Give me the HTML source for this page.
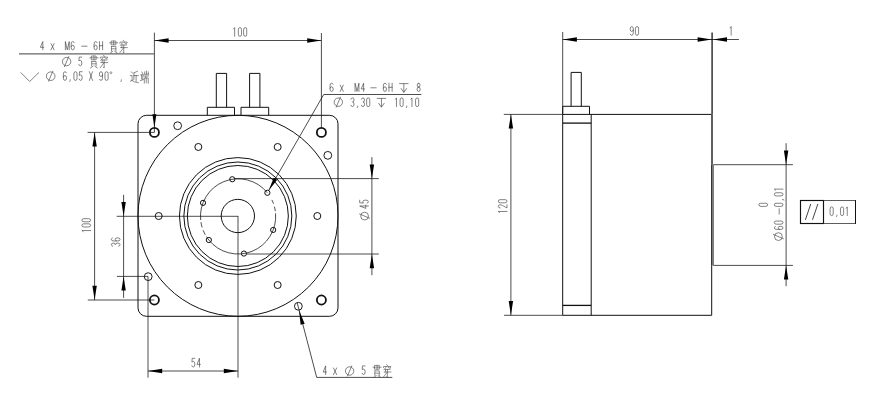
<!DOCTYPE html>
<html><head><meta charset="utf-8"><title>drawing</title>
<style>
html,body{margin:0;padding:0;background:#fff;font-family:"Liberation Sans",sans-serif;}
svg{display:block}
</style></head>
<body>
<svg width="875" height="413" viewBox="0 0 875 413">
<rect width="875" height="413" fill="#fff"/>
<rect x="138.0" y="115.3" width="200.00" height="201.00" rx="8.5" ry="8.5" fill="none" stroke="#111" stroke-width="1.0"/>
<ellipse cx="238.00" cy="215.80" rx="100.00" ry="100.50" fill="none" stroke="#111" stroke-width="1.0"/>
<circle cx="237.85" cy="216.00" r="58.40" fill="none" stroke="#111" stroke-width="1.0"/>
<circle cx="237.85" cy="216.00" r="54.00" fill="none" stroke="#111" stroke-width="1.0"/>
<circle cx="237.85" cy="216.00" r="50.50" fill="none" stroke="#111" stroke-width="1.0"/>
<circle cx="237.85" cy="216.00" r="16.65" fill="none" stroke="#111" stroke-width="1.0"/>
<path d="M267.36,192.79 A37.6,37.6 0 0 0 200.67,220.00" fill="none" stroke="#111" stroke-width="0.75" />
<path d="M200.95,222.22 A37.6,37.6 0 0 0 202.14,227.39" fill="none" stroke="#111" stroke-width="0.75" />
<path d="M203.16,230.30 A37.6,37.6 0 0 0 205.28,234.74" fill="none" stroke="#111" stroke-width="0.75" />
<path d="M206.39,236.60 A37.6,37.6 0 0 0 208.84,240.01" fill="none" stroke="#111" stroke-width="0.75" />
<path d="M208.84,240.01 A37.6,37.6 0 0 0 275.57,213.32" fill="none" stroke="#111" stroke-width="0.75" />
<path d="M275.33,211.13 A37.6,37.6 0 0 0 274.44,206.73" fill="none" stroke="#111" stroke-width="0.75" />
<path d="M273.50,203.73 A37.6,37.6 0 0 0 271.92,199.98" fill="none" stroke="#111" stroke-width="0.75" />
<circle cx="267.36" cy="192.79" r="2.60" fill="none" stroke="#111" stroke-width="1.0"/>
<circle cx="232.28" cy="179.25" r="2.60" fill="none" stroke="#111" stroke-width="1.0"/>
<circle cx="203.02" cy="202.86" r="2.60" fill="none" stroke="#111" stroke-width="1.0"/>
<circle cx="208.84" cy="240.01" r="2.60" fill="none" stroke="#111" stroke-width="1.0"/>
<circle cx="243.92" cy="253.55" r="2.60" fill="none" stroke="#111" stroke-width="1.0"/>
<circle cx="273.18" cy="229.94" r="2.60" fill="none" stroke="#111" stroke-width="1.0"/>
<circle cx="317.30" cy="216.00" r="3.50" fill="none" stroke="#111" stroke-width="1.0"/>
<circle cx="277.65" cy="146.98" r="3.50" fill="none" stroke="#111" stroke-width="1.0"/>
<circle cx="198.35" cy="146.98" r="3.50" fill="none" stroke="#111" stroke-width="1.0"/>
<circle cx="158.70" cy="216.00" r="3.50" fill="none" stroke="#111" stroke-width="1.0"/>
<circle cx="198.35" cy="285.02" r="3.50" fill="none" stroke="#111" stroke-width="1.0"/>
<circle cx="277.65" cy="285.02" r="3.50" fill="none" stroke="#111" stroke-width="1.0"/>
<circle cx="327.81" cy="155.35" r="3.90" fill="none" stroke="#111" stroke-width="0.95"/>
<circle cx="177.65" cy="125.74" r="3.90" fill="none" stroke="#111" stroke-width="0.95"/>
<circle cx="148.19" cy="276.65" r="3.90" fill="none" stroke="#111" stroke-width="0.95"/>
<circle cx="298.35" cy="306.26" r="3.90" fill="none" stroke="#111" stroke-width="0.95"/>
<circle cx="154.40" cy="132.40" r="4.55" fill="none" stroke="#111" stroke-width="1.8"/>
<circle cx="154.40" cy="300.00" r="4.55" fill="none" stroke="#111" stroke-width="1.8"/>
<circle cx="321.40" cy="132.40" r="4.55" fill="none" stroke="#111" stroke-width="1.8"/>
<circle cx="321.40" cy="300.00" r="4.55" fill="none" stroke="#111" stroke-width="1.8"/>
<path d="M207.3,115.3 L207.3,107.3 L234.5,107.3 L234.5,115.3" fill="none" stroke="#111" stroke-width="1.0" />
<path d="M216.3,107.3 L216.3,73.4 L226.6,73.4 L226.6,107.3" fill="none" stroke="#111" stroke-width="1.0" />
<path d="M241.0,115.3 L241.0,107.3 L268.7,107.3 L268.7,115.3" fill="none" stroke="#111" stroke-width="1.0" />
<path d="M249.6,107.3 L249.6,73.4 L259.9,73.4 L259.9,107.3" fill="none" stroke="#111" stroke-width="1.0" />
<line x1="154.40" y1="32.60" x2="154.40" y2="132.40" stroke="#111" stroke-width="0.75" />
<line x1="321.40" y1="33.00" x2="321.40" y2="127.60" stroke="#111" stroke-width="0.75" />
<line x1="154.40" y1="40.50" x2="321.40" y2="40.50" stroke="#111" stroke-width="0.75" />
<polygon points="154.40,40.50 168.60,38.30 168.60,42.70" fill="#000"/>
<polygon points="321.40,40.50 307.20,42.70 307.20,38.30" fill="#000"/>
<path d="M0.7,1.5 L2,0 L2,10" transform="translate(233.08,27.60) scale(0.7875,0.8700)" fill="none" stroke="#383838" stroke-width="0.62" vector-effect="non-scaling-stroke" stroke-linejoin="round" stroke-linecap="round"/>
<path d="M0,2 Q0,0 2,0 Q4,0 4,2 L4,8 Q4,10 2,10 Q0,10 0,8 Z" transform="translate(238.33,27.60) scale(0.7875,0.8700)" fill="none" stroke="#383838" stroke-width="0.62" vector-effect="non-scaling-stroke" stroke-linejoin="round" stroke-linecap="round"/>
<path d="M0,2 Q0,0 2,0 Q4,0 4,2 L4,8 Q4,10 2,10 Q0,10 0,8 Z" transform="translate(243.58,27.60) scale(0.7875,0.8700)" fill="none" stroke="#383838" stroke-width="0.62" vector-effect="non-scaling-stroke" stroke-linejoin="round" stroke-linecap="round"/>
<polygon points="154.40,127.80 152.40,114.20 156.40,114.20" fill="#000"/>
<line x1="19.00" y1="53.80" x2="154.40" y2="53.80" stroke="#666" stroke-width="1.2" />
<line x1="87.60" y1="132.40" x2="154.40" y2="132.40" stroke="#111" stroke-width="0.75" />
<line x1="87.80" y1="300.00" x2="154.40" y2="300.00" stroke="#111" stroke-width="0.75" />
<line x1="94.60" y1="132.40" x2="94.60" y2="300.00" stroke="#111" stroke-width="0.75" />
<polygon points="94.60,132.40 96.80,146.60 92.40,146.60" fill="#000"/>
<polygon points="94.60,300.00 92.40,285.80 96.80,285.80" fill="#000"/>
<g transform="translate(90.60,232.30) rotate(-90)">
<path d="M0.7,1.5 L2,0 L2,10" transform="translate(0.17,-8.70) scale(0.7875,0.8700)" fill="none" stroke="#383838" stroke-width="0.62" vector-effect="non-scaling-stroke" stroke-linejoin="round" stroke-linecap="round"/>
<path d="M0,2 Q0,0 2,0 Q4,0 4,2 L4,8 Q4,10 2,10 Q0,10 0,8 Z" transform="translate(5.33,-8.70) scale(0.7875,0.8700)" fill="none" stroke="#383838" stroke-width="0.62" vector-effect="non-scaling-stroke" stroke-linejoin="round" stroke-linecap="round"/>
<path d="M0,2 Q0,0 2,0 Q4,0 4,2 L4,8 Q4,10 2,10 Q0,10 0,8 Z" transform="translate(10.48,-8.70) scale(0.7875,0.8700)" fill="none" stroke="#383838" stroke-width="0.62" vector-effect="non-scaling-stroke" stroke-linejoin="round" stroke-linecap="round"/>
</g>
<line x1="116.70" y1="216.30" x2="238.00" y2="216.30" stroke="#111" stroke-width="0.75" />
<line x1="116.90" y1="276.40" x2="148.00" y2="276.40" stroke="#111" stroke-width="0.75" />
<line x1="123.60" y1="194.80" x2="123.60" y2="297.90" stroke="#111" stroke-width="0.75" />
<polygon points="123.60,216.30 121.40,202.10 125.80,202.10" fill="#000"/>
<polygon points="123.60,276.40 125.80,290.60 121.40,290.60" fill="#000"/>
<g transform="translate(120.00,246.40) rotate(-90)">
<path d="M0,1.5 Q0.5,0 2,0 Q4,0 4,2.3 Q4,4.6 2,4.6 Q4,4.6 4,7.3 Q4,10 2,10 Q0.5,10 0,8.5" transform="translate(0.17,-8.70) scale(0.7875,0.8700)" fill="none" stroke="#383838" stroke-width="0.62" vector-effect="non-scaling-stroke" stroke-linejoin="round" stroke-linecap="round"/>
<path d="M3.8,1.2 Q3.3,0 2,0 Q0,0 0,3 L0,7.5 Q0,10 2,10 Q4,10 4,7.2 Q4,4.4 2,4.4 Q0.6,4.4 0,6" transform="translate(5.42,-8.70) scale(0.7875,0.8700)" fill="none" stroke="#383838" stroke-width="0.62" vector-effect="non-scaling-stroke" stroke-linejoin="round" stroke-linecap="round"/>
</g>
<line x1="148.00" y1="276.40" x2="148.00" y2="377.70" stroke="#111" stroke-width="0.75" />
<line x1="238.00" y1="216.00" x2="238.00" y2="377.70" stroke="#111" stroke-width="0.75" />
<line x1="148.00" y1="371.00" x2="238.00" y2="371.00" stroke="#111" stroke-width="0.75" />
<polygon points="148.00,371.00 162.20,368.80 162.20,373.20" fill="#000"/>
<polygon points="238.00,371.00 223.80,373.20 223.80,368.80" fill="#000"/>
<path d="M3.8,0 L0.5,0 L0.2,4.4 Q1,3.7 2,3.7 Q3.9,3.7 3.9,6.8 Q3.9,10 2,10 Q0.5,10 0,8.5" transform="translate(191.78,358.30) scale(0.7875,0.8700)" fill="none" stroke="#383838" stroke-width="0.62" vector-effect="non-scaling-stroke" stroke-linejoin="round" stroke-linecap="round"/>
<path d="M3.1,10 L3.1,0 L0,7 L4.3,7" transform="translate(197.03,358.30) scale(0.7875,0.8700)" fill="none" stroke="#383838" stroke-width="0.62" vector-effect="non-scaling-stroke" stroke-linejoin="round" stroke-linecap="round"/>
<line x1="234.98" y1="178.60" x2="378.80" y2="178.60" stroke="#111" stroke-width="0.75" />
<line x1="246.62" y1="254.00" x2="378.80" y2="254.00" stroke="#111" stroke-width="0.75" />
<line x1="371.90" y1="157.10" x2="371.90" y2="275.20" stroke="#111" stroke-width="0.75" />
<polygon points="371.90,178.60 369.70,164.40 374.10,164.40" fill="#000"/>
<polygon points="371.90,254.00 374.10,268.20 369.70,268.20" fill="#000"/>
<g transform="translate(369.30,221.00) rotate(-90)">
<circle cx="4.90" cy="-4.70" r="3.9" fill="none" stroke="#383838" stroke-width="0.62"/>
<line x1="7.20" y1="-10.10" x2="2.60" y2="0.70" stroke="#383838" stroke-width="0.62" />
<path d="M3.1,10 L3.1,0 L0,7 L4.3,7" transform="translate(12.58,-9.60) scale(0.7875,0.8700)" fill="none" stroke="#383838" stroke-width="0.62" vector-effect="non-scaling-stroke" stroke-linejoin="round" stroke-linecap="round"/>
<path d="M3.8,0 L0.5,0 L0.2,4.4 Q1,3.7 2,3.7 Q3.9,3.7 3.9,6.8 Q3.9,10 2,10 Q0.5,10 0,8.5" transform="translate(17.82,-9.60) scale(0.7875,0.8700)" fill="none" stroke="#383838" stroke-width="0.62" vector-effect="non-scaling-stroke" stroke-linejoin="round" stroke-linecap="round"/>
</g>
<line x1="268.70" y1="190.45" x2="323.70" y2="94.50" stroke="#111" stroke-width="0.75" />
<line x1="323.70" y1="94.50" x2="421.30" y2="94.50" stroke="#111" stroke-width="0.75" />
<polygon points="268.70,190.45 273.73,177.65 277.20,179.64" fill="#000"/>
<path d="M3.8,1.2 Q3.3,0 2,0 Q0,0 0,3 L0,7.5 Q0,10 2,10 Q4,10 4,7.2 Q4,4.4 2,4.4 Q0.6,4.4 0,6" transform="translate(330.07,83.20) scale(0.7875,0.8200)" fill="none" stroke="#383838" stroke-width="0.62" vector-effect="non-scaling-stroke" stroke-linejoin="round" stroke-linecap="round"/>
<path d="M0,2.4 L4,10 M4,2.4 L0,10" transform="translate(340.18,83.20) scale(0.7875,0.8200)" fill="none" stroke="#383838" stroke-width="0.62" vector-effect="non-scaling-stroke" stroke-linejoin="round" stroke-linecap="round"/>
<path d="M0,10 L0,0 L2.6,10 L5.2,0 L5.2,10" transform="translate(355.06,83.20) scale(0.7425,0.8200)" fill="none" stroke="#383838" stroke-width="0.62" vector-effect="non-scaling-stroke" stroke-linejoin="round" stroke-linecap="round"/>
<path d="M3.1,10 L3.1,0 L0,7 L4.3,7" transform="translate(361.18,83.20) scale(0.7875,0.8200)" fill="none" stroke="#383838" stroke-width="0.62" vector-effect="non-scaling-stroke" stroke-linejoin="round" stroke-linecap="round"/>
<path d="M-1.2,5.6 L5.6,5.6" transform="translate(371.78,83.20) scale(0.7875,0.8200)" fill="none" stroke="#383838" stroke-width="0.62" vector-effect="non-scaling-stroke" stroke-linejoin="round" stroke-linecap="round"/>
<path d="M3.8,1.2 Q3.3,0 2,0 Q0,0 0,3 L0,7.5 Q0,10 2,10 Q4,10 4,7.2 Q4,4.4 2,4.4 Q0.6,4.4 0,6" transform="translate(383.38,83.20) scale(0.7875,0.8200)" fill="none" stroke="#383838" stroke-width="0.62" vector-effect="non-scaling-stroke" stroke-linejoin="round" stroke-linecap="round"/>
<path d="M0,0 L0,10 M4,0 L4,10 M0,5 L4,5" transform="translate(388.98,83.20) scale(0.7875,0.8200)" fill="none" stroke="#383838" stroke-width="0.62" vector-effect="non-scaling-stroke" stroke-linejoin="round" stroke-linecap="round"/>
<line x1="399.20" y1="83.60" x2="408.50" y2="83.60" stroke="#383838" stroke-width="0.62" />
<line x1="403.85" y1="83.60" x2="403.85" y2="92.20" stroke="#383838" stroke-width="0.62" />
<path d="M400.90,88.20 L403.85,92.40 L406.80,88.20" fill="none" stroke="#383838" stroke-width="0.62" />
<path d="M2,0 Q0.2,0 0.2,2.3 Q0.2,4.6 2,4.6 Q3.8,4.6 3.8,2.3 Q3.8,0 2,0 M2,4.6 Q0,4.6 0,7.3 Q0,10 2,10 Q4,10 4,7.3 Q4,4.6 2,4.6" transform="translate(417.07,83.20) scale(0.7875,0.8200)" fill="none" stroke="#383838" stroke-width="0.62" vector-effect="non-scaling-stroke" stroke-linejoin="round" stroke-linecap="round"/>
<circle cx="338.30" cy="102.20" r="4.2" fill="none" stroke="#383838" stroke-width="0.62"/>
<line x1="340.60" y1="96.80" x2="336.00" y2="107.60" stroke="#383838" stroke-width="0.62" />
<path d="M0,1.5 Q0.5,0 2,0 Q4,0 4,2.3 Q4,4.6 2,4.6 Q4,4.6 4,7.3 Q4,10 2,10 Q0.5,10 0,8.5" transform="translate(350.88,97.90) scale(0.7875,0.8700)" fill="none" stroke="#383838" stroke-width="0.62" vector-effect="non-scaling-stroke" stroke-linejoin="round" stroke-linecap="round"/>
<path d="M2,9.3 L2,10 L1.5,11.1" transform="translate(356.12,97.90) scale(0.7875,0.8700)" fill="none" stroke="#383838" stroke-width="0.62" vector-effect="non-scaling-stroke" stroke-linejoin="round" stroke-linecap="round"/>
<path d="M0,1.5 Q0.5,0 2,0 Q4,0 4,2.3 Q4,4.6 2,4.6 Q4,4.6 4,7.3 Q4,10 2,10 Q0.5,10 0,8.5" transform="translate(361.38,97.90) scale(0.7875,0.8700)" fill="none" stroke="#383838" stroke-width="0.62" vector-effect="non-scaling-stroke" stroke-linejoin="round" stroke-linecap="round"/>
<path d="M0,2 Q0,0 2,0 Q4,0 4,2 L4,8 Q4,10 2,10 Q0,10 0,8 Z" transform="translate(366.62,97.90) scale(0.7875,0.8700)" fill="none" stroke="#383838" stroke-width="0.62" vector-effect="non-scaling-stroke" stroke-linejoin="round" stroke-linecap="round"/>
<line x1="376.80" y1="98.40" x2="386.10" y2="98.40" stroke="#383838" stroke-width="0.62" />
<line x1="381.45" y1="98.40" x2="381.45" y2="107.00" stroke="#383838" stroke-width="0.62" />
<path d="M378.50,103.00 L381.45,107.20 L384.40,103.00" fill="none" stroke="#383838" stroke-width="0.62" />
<path d="M0.7,1.5 L2,0 L2,10" transform="translate(394.88,97.90) scale(0.7875,0.8700)" fill="none" stroke="#383838" stroke-width="0.62" vector-effect="non-scaling-stroke" stroke-linejoin="round" stroke-linecap="round"/>
<path d="M0,2 Q0,0 2,0 Q4,0 4,2 L4,8 Q4,10 2,10 Q0,10 0,8 Z" transform="translate(400.05,97.90) scale(0.7875,0.8700)" fill="none" stroke="#383838" stroke-width="0.62" vector-effect="non-scaling-stroke" stroke-linejoin="round" stroke-linecap="round"/>
<path d="M2,9.3 L2,10 L1.5,11.1" transform="translate(405.22,97.90) scale(0.7875,0.8700)" fill="none" stroke="#383838" stroke-width="0.62" vector-effect="non-scaling-stroke" stroke-linejoin="round" stroke-linecap="round"/>
<path d="M0.7,1.5 L2,0 L2,10" transform="translate(410.39,97.90) scale(0.7875,0.8700)" fill="none" stroke="#383838" stroke-width="0.62" vector-effect="non-scaling-stroke" stroke-linejoin="round" stroke-linecap="round"/>
<path d="M0,2 Q0,0 2,0 Q4,0 4,2 L4,8 Q4,10 2,10 Q0,10 0,8 Z" transform="translate(415.56,97.90) scale(0.7875,0.8700)" fill="none" stroke="#383838" stroke-width="0.62" vector-effect="non-scaling-stroke" stroke-linejoin="round" stroke-linecap="round"/>
<line x1="297.20" y1="302.80" x2="316.70" y2="377.40" stroke="#111" stroke-width="0.75" />
<line x1="316.70" y1="377.40" x2="392.30" y2="377.40" stroke="#111" stroke-width="0.75" />
<polygon points="299.10,310.40 304.67,323.63 300.60,324.68" fill="#000"/>
<path d="M3.1,10 L3.1,0 L0,7 L4.3,7" transform="translate(323.18,365.90) scale(0.7875,0.8700)" fill="none" stroke="#383838" stroke-width="0.62" vector-effect="non-scaling-stroke" stroke-linejoin="round" stroke-linecap="round"/>
<path d="M0,2.4 L4,10 M4,2.4 L0,10" transform="translate(333.48,365.90) scale(0.7875,0.8700)" fill="none" stroke="#383838" stroke-width="0.62" vector-effect="non-scaling-stroke" stroke-linejoin="round" stroke-linecap="round"/>
<circle cx="349.60" cy="371.00" r="4.2" fill="none" stroke="#383838" stroke-width="0.62"/>
<line x1="351.90" y1="365.60" x2="347.30" y2="376.40" stroke="#383838" stroke-width="0.62" />
<path d="M3.8,0 L0.5,0 L0.2,4.4 Q1,3.7 2,3.7 Q3.9,3.7 3.9,6.8 Q3.9,10 2,10 Q0.5,10 0,8.5" transform="translate(362.07,365.90) scale(0.7875,0.8700)" fill="none" stroke="#383838" stroke-width="0.62" vector-effect="non-scaling-stroke" stroke-linejoin="round" stroke-linecap="round"/>
<path d="M2.2,0.8 L6.8,0.8 L6.8,4.6 L2.2,4.6 Z M0.2,2.6 L8.8,2.6 M4.5,0.8 L4.5,4.6 M2.2,6.3 L6.8,6.3 L6.8,11 M2.2,6.3 L2.2,11 M2.2,8.6 L6.8,8.6 M3.6,11 L0.8,13 M5.4,11 L8.2,12.8" transform="translate(372.80,364.60) scale(0.9556,1.0000)" fill="none" stroke="#4a4a4a" stroke-width="0.62" vector-effect="non-scaling-stroke" stroke-linecap="round"/>
<path d="M4.3,0 L5.2,1.2 M0.9,3.0 L1.1,1.9 L8.6,1.9 L8.2,3.0 M3.6,2.6 L1.4,5.2 M5.8,2.6 L8,3.9 M2.6,4.8 L7.8,4.8 M3.2,4.8 L2.8,7.4 M1.6,7.4 L8.8,7.4 M5.0,4.8 L5.0,12.8 L4.2,12.2 M5.0,7.4 L0.8,12.6" transform="translate(382.60,364.60) scale(0.9556,1.0000)" fill="none" stroke="#4a4a4a" stroke-width="0.62" vector-effect="non-scaling-stroke" stroke-linecap="round"/>
<path d="M3.1,10 L3.1,0 L0,7 L4.3,7" transform="translate(40.38,41.60) scale(0.7875,0.8200)" fill="none" stroke="#383838" stroke-width="0.62" vector-effect="non-scaling-stroke" stroke-linejoin="round" stroke-linecap="round"/>
<path d="M0,2.4 L4,10 M4,2.4 L0,10" transform="translate(50.97,41.60) scale(0.7875,0.8200)" fill="none" stroke="#383838" stroke-width="0.62" vector-effect="non-scaling-stroke" stroke-linejoin="round" stroke-linecap="round"/>
<path d="M0,10 L0,0 L2.6,10 L5.2,0 L5.2,10" transform="translate(65.37,41.60) scale(0.7425,0.8200)" fill="none" stroke="#383838" stroke-width="0.62" vector-effect="non-scaling-stroke" stroke-linejoin="round" stroke-linecap="round"/>
<path d="M3.8,1.2 Q3.3,0 2,0 Q0,0 0,3 L0,7.5 Q0,10 2,10 Q4,10 4,7.2 Q4,4.4 2,4.4 Q0.6,4.4 0,6" transform="translate(71.17,41.60) scale(0.7875,0.8200)" fill="none" stroke="#383838" stroke-width="0.62" vector-effect="non-scaling-stroke" stroke-linejoin="round" stroke-linecap="round"/>
<path d="M-1.2,5.6 L5.6,5.6" transform="translate(82.67,41.60) scale(0.7875,0.8200)" fill="none" stroke="#383838" stroke-width="0.62" vector-effect="non-scaling-stroke" stroke-linejoin="round" stroke-linecap="round"/>
<path d="M3.8,1.2 Q3.3,0 2,0 Q0,0 0,3 L0,7.5 Q0,10 2,10 Q4,10 4,7.2 Q4,4.4 2,4.4 Q0.6,4.4 0,6" transform="translate(94.08,41.60) scale(0.7875,0.8200)" fill="none" stroke="#383838" stroke-width="0.62" vector-effect="non-scaling-stroke" stroke-linejoin="round" stroke-linecap="round"/>
<path d="M0,0 L0,10 M4,0 L4,10 M0,5 L4,5" transform="translate(99.47,41.60) scale(0.7875,0.8200)" fill="none" stroke="#383838" stroke-width="0.62" vector-effect="non-scaling-stroke" stroke-linejoin="round" stroke-linecap="round"/>
<path d="M2.2,0.8 L6.8,0.8 L6.8,4.6 L2.2,4.6 Z M0.2,2.6 L8.8,2.6 M4.5,0.8 L4.5,4.6 M2.2,6.3 L6.8,6.3 L6.8,11 M2.2,6.3 L2.2,11 M2.2,8.6 L6.8,8.6 M3.6,11 L0.8,13 M5.4,11 L8.2,12.8" transform="translate(109.40,40.20) scale(0.9556,1.0000)" fill="none" stroke="#4a4a4a" stroke-width="0.62" vector-effect="non-scaling-stroke" stroke-linecap="round"/>
<path d="M4.3,0 L5.2,1.2 M0.9,3.0 L1.1,1.9 L8.6,1.9 L8.2,3.0 M3.6,2.6 L1.4,5.2 M5.8,2.6 L8,3.9 M2.6,4.8 L7.8,4.8 M3.2,4.8 L2.8,7.4 M1.6,7.4 L8.8,7.4 M5.0,4.8 L5.0,12.8 L4.2,12.2 M5.0,7.4 L0.8,12.6" transform="translate(119.00,40.20) scale(0.9556,1.0000)" fill="none" stroke="#4a4a4a" stroke-width="0.62" vector-effect="non-scaling-stroke" stroke-linecap="round"/>
<circle cx="66.60" cy="61.60" r="4.2" fill="none" stroke="#383838" stroke-width="0.62"/>
<line x1="68.90" y1="56.20" x2="64.30" y2="67.00" stroke="#383838" stroke-width="0.62" />
<path d="M3.8,0 L0.5,0 L0.2,4.4 Q1,3.7 2,3.7 Q3.9,3.7 3.9,6.8 Q3.9,10 2,10 Q0.5,10 0,8.5" transform="translate(78.77,57.10) scale(0.7875,0.8700)" fill="none" stroke="#383838" stroke-width="0.62" vector-effect="non-scaling-stroke" stroke-linejoin="round" stroke-linecap="round"/>
<path d="M2.2,0.8 L6.8,0.8 L6.8,4.6 L2.2,4.6 Z M0.2,2.6 L8.8,2.6 M4.5,0.8 L4.5,4.6 M2.2,6.3 L6.8,6.3 L6.8,11 M2.2,6.3 L2.2,11 M2.2,8.6 L6.8,8.6 M3.6,11 L0.8,13 M5.4,11 L8.2,12.8" transform="translate(89.60,55.20) scale(0.9556,1.0000)" fill="none" stroke="#4a4a4a" stroke-width="0.62" vector-effect="non-scaling-stroke" stroke-linecap="round"/>
<path d="M4.3,0 L5.2,1.2 M0.9,3.0 L1.1,1.9 L8.6,1.9 L8.2,3.0 M3.6,2.6 L1.4,5.2 M5.8,2.6 L8,3.9 M2.6,4.8 L7.8,4.8 M3.2,4.8 L2.8,7.4 M1.6,7.4 L8.8,7.4 M5.0,4.8 L5.0,12.8 L4.2,12.2 M5.0,7.4 L0.8,12.6" transform="translate(99.40,55.20) scale(0.9556,1.0000)" fill="none" stroke="#4a4a4a" stroke-width="0.62" vector-effect="non-scaling-stroke" stroke-linecap="round"/>
<path d="M20.6,72.4 L29.7,81.5 L39.0,72.4" fill="none" stroke="#383838" stroke-width="0.62" />
<circle cx="50.70" cy="76.20" r="4.3" fill="none" stroke="#383838" stroke-width="0.62"/>
<line x1="53.00" y1="70.80" x2="48.40" y2="81.60" stroke="#383838" stroke-width="0.62" />
<path d="M3.8,1.2 Q3.3,0 2,0 Q0,0 0,3 L0,7.5 Q0,10 2,10 Q4,10 4,7.2 Q4,4.4 2,4.4 Q0.6,4.4 0,6" transform="translate(63.38,71.70) scale(0.7875,0.8700)" fill="none" stroke="#383838" stroke-width="0.62" vector-effect="non-scaling-stroke" stroke-linejoin="round" stroke-linecap="round"/>
<path d="M2,9.3 L2,10 L1.5,11.1" transform="translate(68.62,71.70) scale(0.7875,0.8700)" fill="none" stroke="#383838" stroke-width="0.62" vector-effect="non-scaling-stroke" stroke-linejoin="round" stroke-linecap="round"/>
<path d="M0,2 Q0,0 2,0 Q4,0 4,2 L4,8 Q4,10 2,10 Q0,10 0,8 Z" transform="translate(73.88,71.70) scale(0.7875,0.8700)" fill="none" stroke="#383838" stroke-width="0.62" vector-effect="non-scaling-stroke" stroke-linejoin="round" stroke-linecap="round"/>
<path d="M3.8,0 L0.5,0 L0.2,4.4 Q1,3.7 2,3.7 Q3.9,3.7 3.9,6.8 Q3.9,10 2,10 Q0.5,10 0,8.5" transform="translate(79.12,71.70) scale(0.7875,0.8700)" fill="none" stroke="#383838" stroke-width="0.62" vector-effect="non-scaling-stroke" stroke-linejoin="round" stroke-linecap="round"/>
<path d="M0,0 L4,10 M4,0 L0,10" transform="translate(89.38,71.70) scale(0.7875,0.8700)" fill="none" stroke="#383838" stroke-width="0.62" vector-effect="non-scaling-stroke" stroke-linejoin="round" stroke-linecap="round"/>
<path d="M0.2,8.8 Q0.7,10 2,10 Q4,10 4,7 L4,2.5 Q4,0 2,0 Q0,0 0,2.8 Q0,5.6 2,5.6 Q3.4,5.6 4,4" transform="translate(99.38,71.70) scale(0.7875,0.8700)" fill="none" stroke="#383838" stroke-width="0.62" vector-effect="non-scaling-stroke" stroke-linejoin="round" stroke-linecap="round"/>
<path d="M0,2 Q0,0 2,0 Q4,0 4,2 L4,8 Q4,10 2,10 Q0,10 0,8 Z" transform="translate(104.97,71.70) scale(0.7875,0.8700)" fill="none" stroke="#383838" stroke-width="0.62" vector-effect="non-scaling-stroke" stroke-linejoin="round" stroke-linecap="round"/>
<circle cx="110.90" cy="72.70" r="0.95" fill="none" stroke="#383838" stroke-width="0.5"/>
<path d="M2,9.3 L2,10 L1.4,11.3" transform="translate(119.77,71.70) scale(0.7875,0.8700)" fill="none" stroke="#383838" stroke-width="0.62" vector-effect="non-scaling-stroke" stroke-linejoin="round" stroke-linecap="round"/>
<path d="M1.4,1.2 L2.6,2.6 M0.2,5 L2.2,5 L2.2,9.8 M2.2,9.8 L0.4,10.6 M2.2,10 Q4.4,11.8 8.8,12.2 M8,0.6 L4.2,2.2 M4.2,2.2 L4,9 M3.6,5 L8.8,5 M6.4,5 L6.4,10.8" transform="translate(130.00,70.60) scale(0.9556,1.0000)" fill="none" stroke="#4a4a4a" stroke-width="0.62" vector-effect="non-scaling-stroke" stroke-linecap="round"/>
<path d="M1.6,1.4 L2.4,3 M0.2,4.2 L3.4,4.2 M1.2,4.4 L1.4,8.6 M2.8,4.4 L2.4,8.6 M0,10 L3.4,9 M4.6,1.2 L4.6,3.6 M4.6,3.6 L8.8,3.6 M8.4,1.2 L8.4,3.6 M6.5,0.2 L6.5,3.6 M3.8,5.4 L9,5.4 M6,5.4 L5.4,7.2 M4.2,12.6 L4.2,7.4 L8.4,7.4 L8.4,12.8 M6.3,7.4 L6.3,12.2" transform="translate(140.40,70.60) scale(0.9333,1.0000)" fill="none" stroke="#4a4a4a" stroke-width="0.62" vector-effect="non-scaling-stroke" stroke-linecap="round"/>
<line x1="503.80" y1="114.40" x2="562.70" y2="114.40" stroke="#111" stroke-width="0.75" />
<line x1="504.00" y1="315.30" x2="562.70" y2="315.30" stroke="#111" stroke-width="0.75" />
<line x1="562.70" y1="114.40" x2="711.70" y2="114.40" stroke="#111" stroke-width="1.0" />
<line x1="562.70" y1="315.30" x2="711.70" y2="315.30" stroke="#111" stroke-width="1.0" />
<line x1="562.70" y1="114.40" x2="562.70" y2="315.30" stroke="#111" stroke-width="1.0" />
<line x1="591.20" y1="114.40" x2="591.20" y2="315.30" stroke="#111" stroke-width="1.0" />
<line x1="562.70" y1="123.10" x2="591.20" y2="123.10" stroke="#111" stroke-width="1.3" />
<line x1="562.70" y1="305.40" x2="591.20" y2="305.40" stroke="#111" stroke-width="1.3" />
<line x1="712.00" y1="114.40" x2="712.00" y2="164.70" stroke="#2a2a2a" stroke-width="1.5" />
<line x1="711.80" y1="164.70" x2="711.80" y2="265.40" stroke="#111" stroke-width="1.3" />
<line x1="713.20" y1="164.70" x2="713.20" y2="265.40" stroke="#444" stroke-width="1.0" />
<line x1="711.70" y1="265.40" x2="711.70" y2="315.30" stroke="#111" stroke-width="1.0" />
<path d="M562.7,114.4 L562.7,106.3 L589.5,106.3 L589.5,114.4" fill="none" stroke="#111" stroke-width="1.0" />
<path d="M571.1,106.3 L571.1,72.4 L581.3,72.4 L581.3,106.3" fill="none" stroke="#111" stroke-width="1.0" />
<line x1="562.70" y1="32.00" x2="562.70" y2="114.40" stroke="#111" stroke-width="0.75" />
<line x1="712.10" y1="32.40" x2="712.10" y2="114.40" stroke="#333" stroke-width="1.5" />
<line x1="562.70" y1="39.50" x2="738.90" y2="39.50" stroke="#111" stroke-width="0.75" />
<polygon points="562.70,39.50 576.90,37.30 576.90,41.70" fill="#000"/>
<polygon points="711.90,39.50 697.60,41.70 697.60,37.30" fill="#000"/>
<polygon points="713.00,39.50 727.00,37.30 727.00,41.70" fill="#000"/>
<path d="M0.2,8.8 Q0.7,10 2,10 Q4,10 4,7 L4,2.5 Q4,0 2,0 Q0,0 0,2.8 Q0,5.6 2,5.6 Q3.4,5.6 4,4" transform="translate(630.17,26.60) scale(0.7875,0.8700)" fill="none" stroke="#383838" stroke-width="0.62" vector-effect="non-scaling-stroke" stroke-linejoin="round" stroke-linecap="round"/>
<path d="M0,2 Q0,0 2,0 Q4,0 4,2 L4,8 Q4,10 2,10 Q0,10 0,8 Z" transform="translate(635.42,26.60) scale(0.7875,0.8700)" fill="none" stroke="#383838" stroke-width="0.62" vector-effect="non-scaling-stroke" stroke-linejoin="round" stroke-linecap="round"/>
<path d="M0.7,1.5 L2,0 L2,10" transform="translate(729.57,26.50) scale(0.7875,0.8700)" fill="none" stroke="#383838" stroke-width="0.62" vector-effect="non-scaling-stroke" stroke-linejoin="round" stroke-linecap="round"/>
<line x1="510.90" y1="114.40" x2="510.90" y2="315.30" stroke="#111" stroke-width="0.75" />
<polygon points="510.90,114.40 513.10,128.60 508.70,128.60" fill="#000"/>
<polygon points="510.90,315.30 508.70,301.10 513.10,301.10" fill="#000"/>
<g transform="translate(507.00,213.20) rotate(-90)">
<path d="M0.7,1.5 L2,0 L2,10" transform="translate(0.17,-8.70) scale(0.7875,0.8700)" fill="none" stroke="#383838" stroke-width="0.62" vector-effect="non-scaling-stroke" stroke-linejoin="round" stroke-linecap="round"/>
<path d="M0,2 Q0,0 2,0 Q4,0 4,2 Q4,3.5 3,5 L0,10 L4,10" transform="translate(5.27,-8.70) scale(0.7875,0.8700)" fill="none" stroke="#383838" stroke-width="0.62" vector-effect="non-scaling-stroke" stroke-linejoin="round" stroke-linecap="round"/>
<path d="M0,2 Q0,0 2,0 Q4,0 4,2 L4,8 Q4,10 2,10 Q0,10 0,8 Z" transform="translate(10.38,-8.70) scale(0.7875,0.8700)" fill="none" stroke="#383838" stroke-width="0.62" vector-effect="non-scaling-stroke" stroke-linejoin="round" stroke-linecap="round"/>
</g>
<line x1="713.40" y1="164.70" x2="792.90" y2="164.70" stroke="#111" stroke-width="0.75" />
<line x1="713.40" y1="265.40" x2="792.90" y2="265.40" stroke="#111" stroke-width="0.75" />
<line x1="786.10" y1="143.20" x2="786.10" y2="286.20" stroke="#111" stroke-width="0.75" />
<polygon points="786.10,164.70 783.90,150.50 788.30,150.50" fill="#000"/>
<polygon points="786.10,265.40 788.30,279.60 783.90,279.60" fill="#000"/>
<g transform="translate(783.00,240.80) rotate(-90)">
<circle cx="4.20" cy="-4.60" r="3.9" fill="none" stroke="#383838" stroke-width="0.62"/>
<line x1="6.50" y1="-10.00" x2="1.90" y2="0.80" stroke="#383838" stroke-width="0.62" />
<path d="M3.8,1.2 Q3.3,0 2,0 Q0,0 0,3 L0,7.5 Q0,10 2,10 Q4,10 4,7.2 Q4,4.4 2,4.4 Q0.6,4.4 0,6" transform="translate(11.38,-8.70) scale(0.7875,0.8700)" fill="none" stroke="#383838" stroke-width="0.62" vector-effect="non-scaling-stroke" stroke-linejoin="round" stroke-linecap="round"/>
<path d="M0,2 Q0,0 2,0 Q4,0 4,2 L4,8 Q4,10 2,10 Q0,10 0,8 Z" transform="translate(16.62,-8.70) scale(0.7875,0.8700)" fill="none" stroke="#383838" stroke-width="0.62" vector-effect="non-scaling-stroke" stroke-linejoin="round" stroke-linecap="round"/>
<path d="M-1.2,5.6 L5.6,5.6" transform="translate(27.68,-8.70) scale(0.7875,0.8700)" fill="none" stroke="#383838" stroke-width="0.62" vector-effect="non-scaling-stroke" stroke-linejoin="round" stroke-linecap="round"/>
<path d="M0,2 Q0,0 2,0 Q4,0 4,2 L4,8 Q4,10 2,10 Q0,10 0,8 Z" transform="translate(34.38,-8.70) scale(0.7875,0.8700)" fill="none" stroke="#383838" stroke-width="0.62" vector-effect="non-scaling-stroke" stroke-linejoin="round" stroke-linecap="round"/>
<path d="M2,9.3 L2,10 L1.5,11.1" transform="translate(39.62,-8.70) scale(0.7875,0.8700)" fill="none" stroke="#383838" stroke-width="0.62" vector-effect="non-scaling-stroke" stroke-linejoin="round" stroke-linecap="round"/>
<path d="M0,2 Q0,0 2,0 Q4,0 4,2 L4,8 Q4,10 2,10 Q0,10 0,8 Z" transform="translate(44.88,-8.70) scale(0.7875,0.8700)" fill="none" stroke="#383838" stroke-width="0.62" vector-effect="non-scaling-stroke" stroke-linejoin="round" stroke-linecap="round"/>
<path d="M0.7,1.5 L2,0 L2,10" transform="translate(50.12,-8.70) scale(0.7875,0.8700)" fill="none" stroke="#383838" stroke-width="0.62" vector-effect="non-scaling-stroke" stroke-linejoin="round" stroke-linecap="round"/>
<path d="M0,2 Q0,0 2,0 Q4,0 4,2 L4,8 Q4,10 2,10 Q0,10 0,8 Z" transform="translate(34.38,-24.10) scale(0.7875,0.8700)" fill="none" stroke="#383838" stroke-width="0.62" vector-effect="non-scaling-stroke" stroke-linejoin="round" stroke-linecap="round"/>
</g>
<rect x="800.5" y="200.5" width="23.0" height="23.0" fill="none" stroke="#111" stroke-width="1.15"/>
<line x1="823.50" y1="200.50" x2="855.50" y2="200.50" stroke="#333" stroke-width="0.8" />
<line x1="823.50" y1="223.50" x2="855.50" y2="223.50" stroke="#333" stroke-width="0.8" />
<line x1="855.50" y1="200.10" x2="855.50" y2="223.90" stroke="#111" stroke-width="1.05" />
<line x1="805.40" y1="219.80" x2="810.80" y2="203.90" stroke="#222" stroke-width="0.85" />
<line x1="812.50" y1="219.80" x2="817.90" y2="203.90" stroke="#222" stroke-width="0.85" />
<path d="M0,2 Q0,0 2,0 Q4,0 4,2 L4,8 Q4,10 2,10 Q0,10 0,8 Z" transform="translate(830.07,206.90) scale(0.7875,0.8700)" fill="none" stroke="#383838" stroke-width="0.62" vector-effect="non-scaling-stroke" stroke-linejoin="round" stroke-linecap="round"/>
<path d="M2,9.3 L2,10 L1.5,11.1" transform="translate(835.27,206.90) scale(0.7875,0.8700)" fill="none" stroke="#383838" stroke-width="0.62" vector-effect="non-scaling-stroke" stroke-linejoin="round" stroke-linecap="round"/>
<path d="M0,2 Q0,0 2,0 Q4,0 4,2 L4,8 Q4,10 2,10 Q0,10 0,8 Z" transform="translate(840.48,206.90) scale(0.7875,0.8700)" fill="none" stroke="#383838" stroke-width="0.62" vector-effect="non-scaling-stroke" stroke-linejoin="round" stroke-linecap="round"/>
<path d="M0.7,1.5 L2,0 L2,10" transform="translate(845.68,206.90) scale(0.7875,0.8700)" fill="none" stroke="#383838" stroke-width="0.62" vector-effect="non-scaling-stroke" stroke-linejoin="round" stroke-linecap="round"/>
</svg>
</body></html>
